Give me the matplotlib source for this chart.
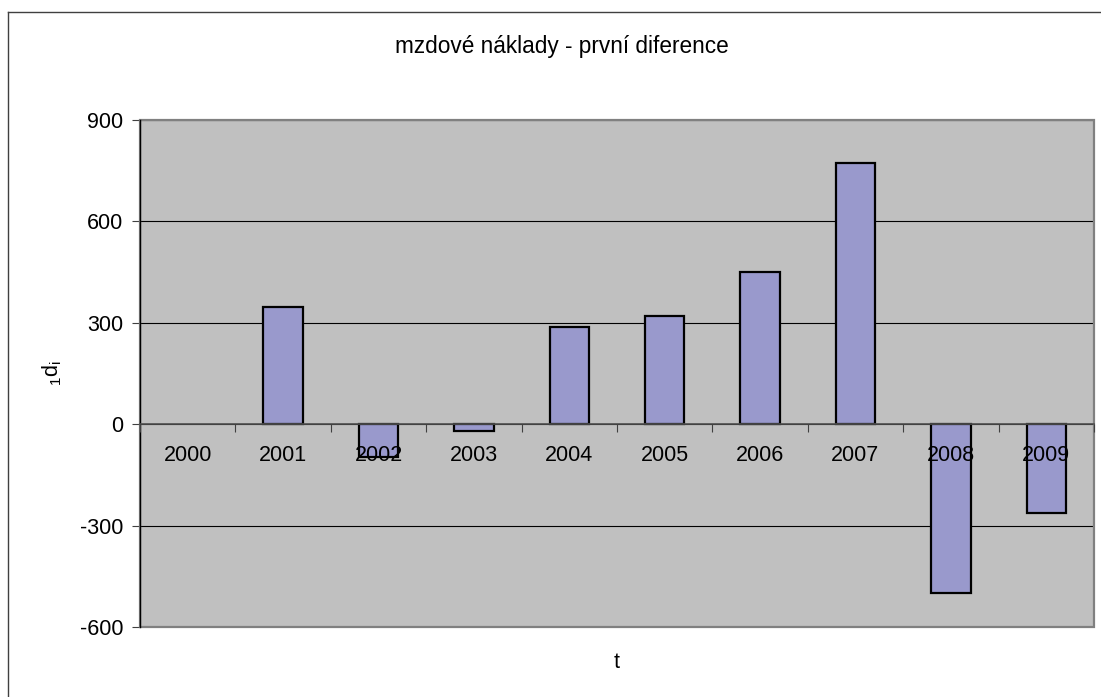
import matplotlib
matplotlib.use("Agg")
import matplotlib.pyplot as plt
from matplotlib.lines import Line2D
from matplotlib.patches import Rectangle
import numpy as np

years = ["2000", "2001", "2002", "2003", "2004", "2005", "2006", "2007", "2008", "2009"]
first_diff = [0, 346, -98, -20, 289, 319, 450, 772, -500, -264]
y_ticks = [-600, -300, 0, 300, 600, 900]

plt.rcParams["font.family"] = ["Liberation Sans", "DejaVu Sans"]
plt.rcParams["mathtext.fontset"] = "custom"
plt.rcParams["mathtext.rm"] = "Liberation Sans"
plt.rcParams["mathtext.it"] = "Liberation Sans:italic"

W, H = 1101, 697
fig = plt.figure(figsize=(W / 100, H / 100), dpi=100)
fig.patch.set_facecolor("white")

# plot area in pixel coordinates
left, right, top, bottom = 140, 1094, 120, 627
ax = fig.add_axes([left / W, 1 - bottom / H, (right - left) / W, (bottom - top) / H])
ax.set_facecolor("#c0c0c0")

x = np.arange(len(years))
edge_w = [0 if v == 0 else 1.6 for v in first_diff]
ax.bar(x, first_diff, width=0.415, color="#9999cc", edgecolor="black", linewidth=edge_w, zorder=2)

ax.set_xlim(-0.5, len(years) - 0.5)
ax.set_ylim(-600, 900)
ax.set_yticks(y_ticks)
ax.set_yticklabels([str(v) for v in y_ticks], fontsize=15.5)
ax.tick_params(axis="y", direction="out", length=5.5, width=0.8, pad=6.5, color="#404040")
ax.yaxis.grid(True, color="black", linewidth=0.8)
ax.set_axisbelow(True)

# category axis runs along zero, ticks between categories; labels sit over the bars
ax.spines["bottom"].set_position(("data", 0))
ax.spines["bottom"].set_color("#505050")
ax.spines["bottom"].set_linewidth(1.2)
ax.set_xticks(x)
ax.set_xticklabels(years, fontsize=15.5)
ax.set_xticks(np.arange(-0.5, len(years)), minor=True)
ax.tick_params(axis="x", which="major", length=0, pad=15)
ax.tick_params(axis="x", which="minor", direction="out", length=5.5, width=0.8, color="#404040")
ax.xaxis.set_zorder(5)

ax.spines["top"].set_visible(False)
ax.spines["right"].set_visible(False)
ax.spines["left"].set_color("black")
ax.spines["left"].set_linewidth(1.0)
ax.add_patch(Rectangle((0, 0), 1, 1, transform=ax.transAxes, fill=False,
                       edgecolor="#808080", linewidth=1.6, clip_on=False, zorder=1))

fig.text(562 / W, 1 - 47 / H, "mzdové náklady - první diference", fontsize=16.3,
         ha="center", va="center")
fig.text(617 / W, 1 - 663 / H, "t", fontsize=15.5, ha="center", va="center")
fig.text(52 / W, 1 - 373 / H, r"${}_{1}\mathrm{d}_{\mathrm{i}}$", fontsize=15.5,
         rotation=90, ha="center", va="center")

# outer chart frame
fig.add_artist(Line2D([8 / W, 1], [1 - 12 / H, 1 - 12 / H], color="#404040", linewidth=1.0))
fig.add_artist(Line2D([8 / W, 8 / W], [0, 1 - 12 / H], color="#404040", linewidth=1.0))

fig.savefig("out.png", dpi=100)
